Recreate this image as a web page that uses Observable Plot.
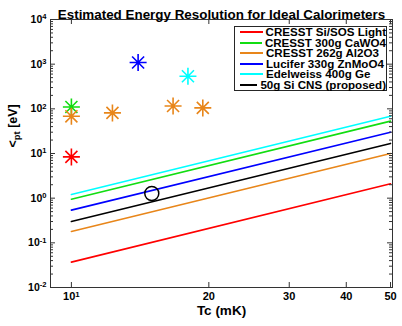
<!DOCTYPE html>
<html>
<head>
<meta charset="utf-8">
<script src="https://cdn.jsdelivr.net/npm/d3@7"></script>
<script src="https://cdn.jsdelivr.net/npm/@observablehq/plot@0.6"></script>
<style>
  html, body { margin: 0; padding: 0; background: #fff; }
  #wrap { position: relative; width: 402px; height: 326px; overflow: hidden; }
  #wrap svg text { font-family: "Liberation Sans", Arial, Helvetica, sans-serif; font-weight: bold; }
  #legend { position: absolute; left: 234px; top: 26px; width: 153px; height: 65px;
    border: 1px solid #262626; background: #fff; box-sizing: border-box;
    font-family: "Liberation Sans", Arial, Helvetica, sans-serif; font-weight: bold; font-size: 11.6px; color: #000; padding-top: 0px; }
  .item { display: flex; align-items: center; height: 10.5px; line-height: 10.5px; white-space: nowrap; }
  .swatch { display: inline-block; width: 23px; height: 0; border-top: 2px solid; margin-left: 5px; margin-right: 3px; }
</style>
</head>
<body>
<div id="wrap"></div>
<script>
// ---- data ----
const seriesNames = ["CRESST Si/SOS Light", "CRESST 300g CaWO4", "CRESST 262g Al2O3", "Lucifer 330g ZnMoO4", "Edelweiss 400g Ge", "50g Si CNS (proposed)"];
const seriesColors = ["#ff0000", "#11dd11", "#e8861a", "#0000ff", "#00ffff", "#000000"];
const lineTc = [10, 50];
const sigmaAt10 = [0.037, 0.95, 0.18, 0.54, 1.21, 0.30];
const sigmaAt50 = [2.1, 53, 10, 30, 68, 16.8];

const measTc = [10, 10, 10, 12.3, 14, 18, 16.7, 19.4];
const measSigma = [110, 68, 8.4, 81, 1090, 537, 116, 105];
const measColor = ["#11dd11", "#e8861a", "#ff0000", "#e8861a", "#0000ff", "#00ffff", "#e8861a", "#e8861a"];

const proposedTc = [15];
const proposedSigma = [1.27];

const xTicks = [10, 20, 30, 40, 50];
const yTicks = [1e-2, 1e-1, 1e0, 1e1, 1e2, 1e3, 1e4];

const titleText = "Estimated Energy Resolution for Ideal Calorimeters";
const xLabel = "Tc (mK)";
const yLabelParts = ["<", "pt", " [eV]"];

// ---- derived tables ----
const lineRows = [];
seriesNames.forEach((name, i) => {
  lineRows.push({name, color: seriesColors[i], tc: lineTc[0], sigma: sigmaAt10[i]});
  lineRows.push({name, color: seriesColors[i], tc: lineTc[1], sigma: sigmaAt50[i]});
});
const measRows = measTc.map((t, i) => ({tc: t, sigma: measSigma[i], color: measColor[i]}));
const propRows = proposedTc.map((t, i) => ({tc: t, sigma: proposedSigma[i]}));
const yMinor = [];
for (let k = -2; k < 4; k++) for (let m = 2; m <= 9; m++) yMinor.push(m * Math.pow(10, k));

const asterisk = {
  draw(context, size) {
    const r = Math.sqrt(size / Math.PI);
    const d = r * Math.SQRT1_2;
    context.moveTo(-r, 0); context.lineTo(r, 0);
    context.moveTo(0, -r); context.lineTo(0, r);
    context.moveTo(-d, -d); context.lineTo(d, d);
    context.moveTo(-d, d); context.lineTo(d, -d);
  }
};

const W = 402, H = 326, mL = 50, mR = 10, mT = 19, mB = 39;
const fw = W - mL - mR, fh = H - mT - mB;
const frameColor = "#333";

const chart = Plot.plot({
  width: W, height: H,
  marginLeft: mL, marginRight: mR, marginTop: mT, marginBottom: mB,
  x: {type: "log", domain: [9, 50.5]},
  y: {type: "log", domain: [0.01, 10000]},
  color: {type: "identity"},
  marks: [
    Plot.line(lineRows, {x: "tc", y: "sigma", z: "name", stroke: "color", strokeWidth: 1.6}),
    Plot.dot(propRows, {x: "tc", y: "sigma", r: 7, stroke: "#000", strokeWidth: 1.5, fill: "none"}),
    Plot.dot(measRows, {x: "tc", y: "sigma", r: 8.5, symbol: asterisk, stroke: "color", strokeWidth: 1.6, fill: "none"}),
    // inside ticks, MATLAB-style box
    Plot.tickY(yTicks, {y: d => d, insetRight: fw - 5, stroke: frameColor}),
    Plot.tickY(yTicks, {y: d => d, insetLeft: fw - 5, stroke: frameColor}),
    Plot.tickY(yMinor, {y: d => d, insetRight: fw - 3, stroke: frameColor}),
    Plot.tickY(yMinor, {y: d => d, insetLeft: fw - 3, stroke: frameColor}),
    Plot.tickX(xTicks, {x: d => d, insetTop: fh - 5, stroke: frameColor}),
    Plot.tickX(xTicks, {x: d => d, insetBottom: fh - 5, stroke: frameColor}),
    Plot.frame({stroke: frameColor}),
    Plot.axisY({ticks: yTicks, tickSize: 0, tickPadding: 4, label: null, fontSize: 10.5,
      tickFormat: d => "10^" + Math.round(Math.log10(d))}),
    Plot.axisX({ticks: xTicks, tickSize: 0, tickPadding: 5, label: null, fontSize: 11,
      tickFormat: d => d === 10 ? "10^1" : String(d)}),
    Plot.text([titleText], {text: d => d, frameAnchor: "top", dy: -10, fontSize: 13.4, fontWeight: "bold", fill: "#000"}),
    Plot.text([xLabel], {text: d => d, frameAnchor: "bottom", dy: 27.5, fontSize: 13.5, fontWeight: "bold", fill: "#000"}),
    Plot.text([yLabelParts.join("|")], {text: d => d, frameAnchor: "left", dx: -38, dy: -6, rotate: -90, fontSize: 12.5, fontWeight: "bold", fill: "#000"})
  ]
});

// superscripts on tick labels, subscript on y label
d3.select(chart).selectAll("text").each(function () {
  const s = this.textContent;
  const t = d3.select(this);
  if (s.includes("^")) {
    const [base, exp] = s.split("^");
    t.text(base);
    t.append("tspan").attr("dy", "-0.45em").attr("font-size", "0.72em").text(exp);
  } else if (s.includes("|")) {
    const parts = s.split("|");
    t.text(parts[0]);
    t.append("tspan").attr("dy", "0.35em").attr("font-size", "0.75em").text(parts[1]);
    t.append("tspan").attr("dy", "-0.26em").text(parts[2]);
  }
});

const wrap = document.getElementById("wrap");
wrap.appendChild(chart);

const legend = document.createElement("div");
legend.id = "legend";
seriesNames.forEach((name, i) => {
  const item = document.createElement("div");
  item.className = "item";
  const sw = document.createElement("span");
  sw.className = "swatch";
  sw.style.borderTopColor = seriesColors[i];
  const lab = document.createElement("span");
  lab.textContent = name;
  item.appendChild(sw);
  item.appendChild(lab);
  legend.appendChild(item);
});
wrap.appendChild(legend);
</script>
</body>
</html>
